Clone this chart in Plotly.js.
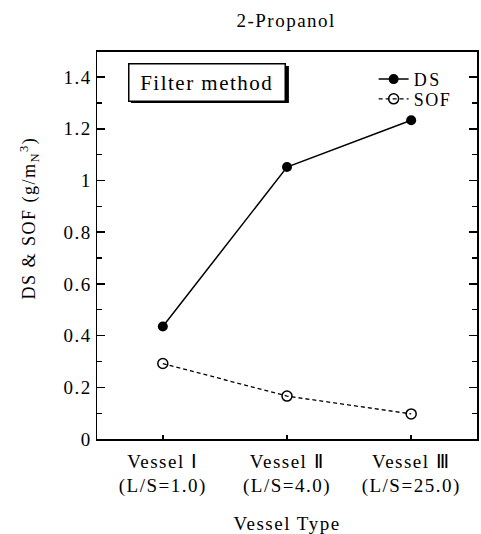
<!DOCTYPE html>
<html><head><meta charset="utf-8">
<script src="https://cdn.plot.ly/plotly-3.0.1.min.js"></script>
<style>html,body{margin:0;padding:0;background:#fff;}
#chart svg text{letter-spacing:1.5px;}
#chart svg .legend text{letter-spacing:2.5px;}</style>
</head><body>
<div id="chart" style="width:481px;height:534px;"></div>
<script>
const categories = ["Vessel Ⅰ<br>(L/S=1.0)", "Vessel Ⅱ<br>(L/S=4.0)", "Vessel Ⅲ<br>(L/S=25.0)"];
const dsValues = [0.435, 1.052, 1.233];
const sofValues = [0.292, 0.166, 0.097];
const yTickVals = [0, 0.2, 0.4, 0.6, 0.8, 1, 1.2, 1.4];
const yTickText = ["0", "0.2", "0.4", "0.6", "0.8", "1", "1.2", "1.4"];
const yTitle = "DS & SOF (g/m<sub>N</sub><sup>3</sup>)";

const xIdx = categories.map((c, i) => i);
const font = "Liberation Serif, 'Times New Roman', serif";

const traces = [
  {x: xIdx, y: dsValues, name: "DS", mode: "lines+markers", type: "scatter", legend: "legend",
   line: {color: "#000", width: 1.5}, marker: {symbol: "circle", size: 10, color: "#000"}},
  {x: xIdx, y: sofValues, name: "SOF", mode: "lines+markers", type: "scatter", legend: "legend2",
   line: {color: "#000", width: 1.3, dash: "4px,3px"},
   marker: {symbol: "circle-open", size: 10, color: "#000", line: {width: 1.5, color: "#000"}}}
];

const legFont = {family: font, size: 18, color: "#000"};
const layout = {
  width: 481, height: 534,
  margin: {l: 97, r: 4, t: 52, b: 95},
  paper_bgcolor: "#fff", plot_bgcolor: "#fff",
  font: {family: font, color: "#000", size: 19},
  title: {text: "2-Propanol", font: {family: font, size: 19, color: "#000"}, x: 0.595, xanchor: "center", y: 0.962, yanchor: "middle"},
  showlegend: true,
  legend: {x: 0.728, xanchor: "left", y: 0.977, yanchor: "top", bgcolor: "rgba(0,0,0,0)", font: legFont, borderwidth: 0},
  legend2: {x: 0.728, xanchor: "left", y: 0.926, yanchor: "top", bgcolor: "rgba(0,0,0,0)", font: legFont, borderwidth: 0},
  xaxis: {
    range: [-0.53, 2.53], tickmode: "array", tickvals: xIdx, ticktext: categories,
    showgrid: false, zeroline: false, showline: true, linecolor: "#000", linewidth: 1.8, mirror: true,
    ticks: "inside", ticklen: 4, tickcolor: "#000", tickwidth: 1.5, ticklabelstandoff: 4,
    tickfont: {family: font, size: 19, color: "#000"},
    title: {text: "Vessel Type", font: {family: font, size: 19, color: "#000"}, standoff: 20}
  },
  yaxis: {
    range: [0, 1.497], tickmode: "array", tickvals: yTickVals, ticktext: yTickText,
    showgrid: false, zeroline: false, showline: true, linecolor: "#000", linewidth: 1.5, mirror: "ticks",
    ticks: "inside", ticklen: 8, tickcolor: "#000", tickwidth: 1.5,
    minor: {dtick: 0.1, tick0: 0, ticks: "inside", ticklen: 5, tickcolor: "#000", tickwidth: 1.2},
    tickfont: {family: font, size: 19, color: "#000"}
  },
  shapes: [
    {type: "rect", xref: "paper", yref: "paper", x0: 0.0895, x1: 0.505, y0: 0.868, y1: 0.964,
     fillcolor: "#000", line: {width: 0}, layer: "above"}
  ],
  annotations: [
    {xref: "paper", yref: "paper", x: -0.18, y: 0.571, xanchor: "center", yanchor: "middle",
     text: yTitle, textangle: -90, showarrow: false, font: {family: font, size: 18, color: "#000"}},
    {xref: "paper", yref: "paper", x: 0.0816, y: 0.9716, xanchor: "left", yanchor: "top",
     text: "Filter method", showarrow: false, font: {family: font, size: 21, color: "#000"},
     width: 143, height: 24, align: "center", valign: "middle",
     bgcolor: "#fff", bordercolor: "#000", borderwidth: 1.5, borderpad: 6}
  ]
};

Plotly.newPlot("chart", traces, layout, {displayModeBar: false, staticPlot: true});
</script>
</body></html>
